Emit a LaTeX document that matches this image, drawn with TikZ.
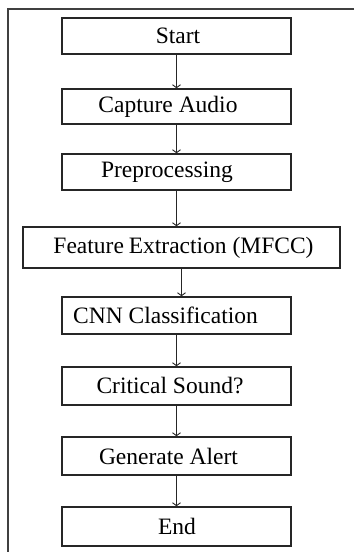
\documentclass[tikz,border=0pt]{standalone}
\usepackage{fontspec}
\setmainfont{Liberation Serif}
\usetikzlibrary{arrows.meta}
\begin{document}
\begin{tikzpicture}[x=1pt,y=-1pt,
  box/.style={draw=black!85,line width=1.5pt,inner sep=0pt},
  lbl/.style={inner sep=0pt,font=\fontsize{23.5}{28}\selectfont,text=black},
  conn/.style={draw=black!85,line width=1.2pt,-{Straight Barb[length=3pt,width=8pt,line width=0.9pt]}},
  frame/.style={draw=black!75,line width=2pt}]
\useasboundingbox (0,0) rectangle (354,552);
\draw[frame] (354,9) -- (8,9) -- (8,552);
% boxes
\node[box,minimum width=229pt,minimum height=36pt] (start) at (176.5,36) {};
\node[box,minimum width=229pt,minimum height=35pt] (cap) at (176.5,106.5) {};
\node[box,minimum width=229pt,minimum height=36pt] (prep) at (176.5,172) {};
\node[box,minimum width=317pt,minimum height=41pt] (feat) at (181.5,247.5) {};
\node[box,minimum width=229pt,minimum height=37pt] (cnn) at (176.5,315.5) {};
\node[box,minimum width=229pt,minimum height=38pt] (crit) at (176.5,386) {};
\node[box,minimum width=229pt,minimum height=38pt] (gen) at (176.5,456) {};
\node[box,minimum width=229pt,minimum height=39pt] (end) at (176.5,526.5) {};
% texts
\node[lbl] (tstart) at ([xshift=1.5pt]start.center) {Start};
\node[lbl] (tcap) at ([xshift=-8.5pt]cap.center) {Capture Audio};
\node[lbl] (tprep) at ([xshift=-9.5pt]prep.center) {Preprocessing};
\node[lbl] (tfeat) at ([xshift=2pt]feat.center) {Feature\kern-1pt\ Extraction (MFCC)};
\node[lbl] (tcnn) at ([xshift=-11pt]cnn.center) {CNN Classification};
\node[lbl] (tcrit) at ([xshift=-6.5pt]crit.center) {Critical Sound?};
\node[lbl] (tgen) at ([xshift=-8pt]gen.center) {Generate Alert};
\node[lbl] (tend) at ([xshift=0.5pt]end.center) {End};
% connectors
\draw[conn] (start.south) -- (cap.north);
\draw[conn] (cap.south) -- (prep.north);
\draw[conn] (prep.south) -- (prep.south |- feat.north);
\draw[conn] (feat.south) -- (feat.south |- cnn.north);
\draw[conn] (cnn.south) -- (crit.north);
\draw[conn] (crit.south) -- (gen.north);
\draw[conn] (gen.south) -- (end.north);
\end{tikzpicture}
\end{document}
